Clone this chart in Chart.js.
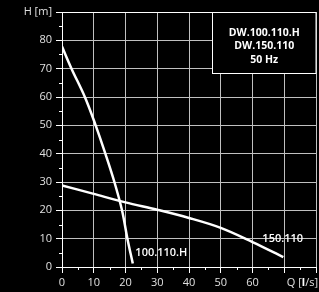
<!DOCTYPE html>
<html><head><meta charset="utf-8">
<script src="https://cdn.jsdelivr.net/npm/chart.js@4"></script>
<style>html,body{margin:0;padding:0;background:#000;}#wrap{width:319px;height:292px;}</style>
</head><body><div id="wrap"><canvas id="c"></canvas></div>
<script>
// Data
const q100 = [0, 3.0, 7.2, 10.6, 13.65, 16.5, 18.9, 20.6, 22.3];
const h100 = [77.8, 70, 60, 50, 40, 30, 20, 10, 1.2];
const q150 = [0, 10, 20, 30, 40, 50, 60, 69.7];
const h150 = [28.8, 25.8, 22.8, 20.2, 17.3, 13.8, 8.8, 3.5];
const xTicks = [0, 10, 20, 30, 40, 50, 60];
const yTicks = [0, 10, 20, 30, 40, 50, 60, 70, 80];
const legendLines = ['DW.100.110.H', 'DW.150.110', '50 Hz'];
const curveLabels = [{text: '100.110.H', x: 23.1, y: 5}, {text: '150.110', x: 63.1, y: 10}];

const toPts = (xs, ys) => xs.map((x, i) => ({x, y: ys[i]}));
const FONT = '"Open Sans", "DejaVu Sans", sans-serif';

const extras = {
  id: 'extras',
  afterDraw(chart) {
    const ctx = chart.ctx, xs = chart.scales.x, ys = chart.scales.y, a = chart.chartArea;
    ctx.save();
    // minor ticks
    ctx.strokeStyle = '#ffffff'; ctx.lineWidth = 1;
    for (let v = 5; v < 90; v += 10) {
      const py = Math.round(ys.getPixelForValue(v)) + 0.5;
      ctx.beginPath(); ctx.moveTo(a.left - 3, py); ctx.lineTo(a.left, py); ctx.stroke();
    }
    for (let v = 5; v < 80; v += 10) {
      const px = Math.round(xs.getPixelForValue(v)) + 0.5;
      ctx.beginPath(); ctx.moveTo(px, a.bottom); ctx.lineTo(px, a.bottom + 3); ctx.stroke();
    }
    // legend box
    const bx = Math.round(xs.getPixelForValue(47.2)) + 0.5, by = Math.round(a.top) + 0.5;
    const bw = a.right - bx, bh = Math.round(ys.getPixelForValue(68.3)) + 0.5 - by;
    ctx.fillStyle = '#000'; ctx.fillRect(bx, by, bw, bh);
    ctx.strokeStyle = '#fff'; ctx.strokeRect(bx, by, bw, bh);
    ctx.fillStyle = '#fff'; ctx.font = 'bold 10.5px ' + FONT;
    ctx.textAlign = 'center'; ctx.textBaseline = 'middle';
    legendLines.forEach((t, i) => ctx.fillText(t, bx + bw / 2, 33 + i * 13.5));
    // curve labels
    ctx.font = '600 11px ' + FONT; ctx.textAlign = 'left';
    curveLabels.forEach(l => ctx.fillText(l.text, xs.getPixelForValue(l.x), ys.getPixelForValue(l.y)));
    // x axis title
    ctx.font = '11px ' + FONT; ctx.fillStyle = '#e0e0e0';
    const ty = 283;
    const p3 = '/s]', p2 = 'l', p1 = 'Q [';
    let right = 318;
    ctx.textAlign = 'right';
    ctx.fillText(p3, right, ty); right -= ctx.measureText(p3).width;
    ctx.font = 'bold 11px ' + FONT; ctx.fillStyle = '#ffffff';
    ctx.fillText(p2, right, ty); right -= ctx.measureText(p2).width;
    ctx.font = '11px ' + FONT; ctx.fillStyle = '#e0e0e0';
    ctx.fillText(p1, right, ty);
    ctx.restore();
  }
};

new Chart(document.getElementById('c'), {
  type: 'scatter',
  data: {
    datasets: [
      {data: toPts(q100, h100), showLine: true, borderColor: '#fff', borderWidth: 2.5, pointRadius: 0, tension: 0.35},
      {data: toPts(q150, h150), showLine: true, borderColor: '#fff', borderWidth: 2.5, pointRadius: 0, tension: 0.35}
    ]
  },
  options: {
    responsive: true, maintainAspectRatio: false, animation: false,
    layout: {padding: {top: 12, right: 1, left: 0, bottom: 0}},
    plugins: {legend: {display: false}, tooltip: {enabled: false}},
    scales: {
      x: {
        type: 'linear', min: 0, max: 80,
        afterBuildTicks: s => { s.ticks = [...xTicks, 70, 80].map(v => ({value: v})); },
        afterFit: s => { s.height = 25; },
        grid: {color: '#c0c0c0', tickColor: '#ffffff', tickLength: 6, lineWidth: 1},
        border: {color: '#ffffff', width: 1},
        ticks: {color: '#e0e0e0', font: {family: FONT, size: 11}, padding: 3, maxRotation: 0,
          callback: v => xTicks.includes(v) ? String(v) : ''}
      },
      y: {
        type: 'linear', min: 0, max: 90,
        afterBuildTicks: s => { s.ticks = [...yTicks, 90].map(v => ({value: v})); },
        afterFit: s => { s.width = 62; },
        grid: {color: c => c.tick && c.tick.value === 90 ? '#ffffff' : '#c0c0c0', tickColor: '#ffffff', tickLength: 6, lineWidth: 1},
        border: {color: '#ffffff', width: 1},
        ticks: {color: '#e0e0e0', font: {family: FONT, size: 11}, padding: 4,
          callback: v => v === 90 ? 'H [m]' : String(v)}
      }
    }
  },
  plugins: [extras]
});
</script></body></html>
